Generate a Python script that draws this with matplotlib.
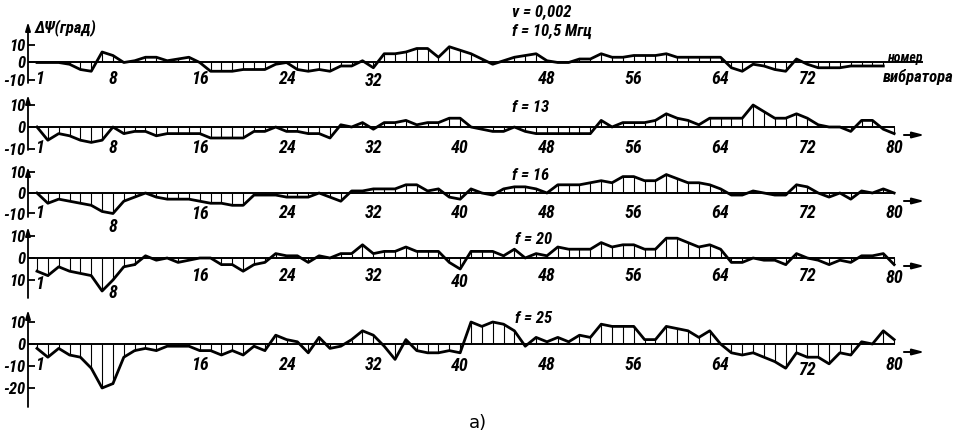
import numpy as np
import matplotlib
matplotlib.use('Agg')
from matplotlib import pyplot as plt
from matplotlib import font_manager

# фазовая ошибка dPsi (град) по номерам вибраторов, пять частот
dphi_105 = [0, 0, 0, -1, -4, -5, 6, 4, 0, 1,
            3, 3, 1, 2, 3, 0, -5, -5, -5, -4,
            -4, -4, -1, 0, -4, -5, -4, -5, -2, -2,
            1, -3, 5, 5, 6, 8, 8, 3, 9, 7,
            5, 2, -1, 1, 3, 4, 5, 1, 0, 0,
            2, 2, 5, 3, 3, 4, 4, 4, 5, 3,
            3, 3, 3, 3, -3, -5, -1, -2, -4, -5,
            2, -1, -3, -3, -3, -2, -2, -2, -2]
dphi_13 = [0, -6, -3, -4, -6, -7, -6, 0, -3, -2,
           -2, -4, -3, -3, -3, -3, -5, -5, -5, -5,
           -2, -2, 0, -2, -2, -3, -3, -5, 1, 0,
           2, -1, 2, 2, 3, 1, 2, 2, 4, 4,
           0, -1, -2, -2, 0, -2, -3, -3, -3, -3,
           -3, -3, 3, 0, 2, 2, 2, 3, 6, 4,
           3, 1, 4, 4, 4, 4, 10, 7, 4, 4,
           6, 4, 1, 0, 0, -2, 3, 3, -1, -3]
dphi_16 = [0, -5, -3, -4, -5, -6, -9, -10, -4, -2,
           0, -2, -3, -3, -3, -4, -5, -5, -6, -6,
           -1, -1, -1, -2, -2, -2, 0, -2, -4, 1,
           1, 2, 2, 2, 4, 4, 1, 2, -2, -3,
           2, 0, -1, 2, 3, 3, 2, 0, 4, 4,
           4, 5, 6, 5, 8, 8, 6, 6, 9, 7,
           5, 5, 4, 2, -1, -1, 1, 0, -1, -1,
           4, 3, 0, -2, 0, -3, 1, 0, 2, 0]
dphi_20 = [-6, -8, -4, -6, -7, -8, -15, -10, -4, -3,
           1, -1, 0, -2, -1, 0, 0, -3, -3, -6,
           -3, -2, 2, 1, 1, -2, 1, 0, 2, 2,
           6, 2, 3, 3, 5, 3, 3, 3, -2, -5,
           3, 3, 3, 1, 4, 0, 2, 1, 5, 4,
           4, 4, 7, 5, 6, 6, 4, 4, 9, 9,
           7, 5, 6, 4, -2, -2, 0, -1, -1, -3,
           2, 0, -1, -3, -1, -2, 1, 1, 2, -3]
dphi_25 = [-2, -6, -2, -5, -6, -11, -20, -18, -6, -3,
           -2, -3, -1, -1, -1, -3, -3, -5, -3, -5,
           -1, -3, 4, 2, 1, -4, 3, -2, -1, 2,
           6, 4, -1, -7, 2, -3, -4, -4, -3, -4,
           10, 8, 10, 9, 6, -1, 3, 1, 3, 1,
           4, 3, 9, 8, 8, 8, 2, 2, 8, 7,
           6, 3, 6, 0, -4, -5, -4, -6, -8, -11,
           -4, -6, -6, -9, -4, -5, 1, 0, 6, 2]

series = [dphi_105, dphi_13, dphi_16, dphi_20, dphi_25]
freq_text = ['f = 10,5 Мгц', 'f = 13', 'f = 16', 'f = 20', 'f = 25']
ytick_vals = [[10, 0, -10], [10, 0, -10], [10, 0, -10], [10, 0, -10], [10, 0, -10, -20]]
ytick_text = [['10', '0', '-10'], ['10', '0', '-10'], ['10', '0', '-10'],
              ['10', '0', '10'], ['10', '0', '-10', '-20']]
xtick_vals = [[1, 8, 16, 24, 32, 48, 56, 64, 72],
              [1, 8, 16, 24, 32, 40, 48, 56, 64, 72, 80],
              [1, 8, 16, 24, 32, 40, 48, 56, 64, 72, 80],
              [1, 8, 16, 24, 32, 40, 48, 56, 64, 72, 80],
              [1, 16, 24, 32, 40, 48, 56, 64, 72, 80]]

# разметка полос: ноль (px), px на градус, верх оси, низ оси, отступ подписей
strips = [(62.5, 1.75, 22, 83, 16), (127, 2.2, 95, 150, 21), (193, 2.05, 167, 217, 20),
          (258, 2.2, 227, 298, 18), (344, 2.2, 310, 407, 21)]
freq_pos = [(512, 31), (512, 108), (512, 175), (515, 240), (515, 318)]

names = {f.name for f in font_manager.fontManager.ttflist}
hand = next((n for n in ['Liberation Sans Narrow', 'DejaVu Sans Condensed',
                         'Roboto Condensed', 'Open Sans Condensed'] if n in names), 'DejaVu Sans')
tf = dict(family=hand, style='italic', weight='bold')

W, H = 961, 440
fig = plt.figure(figsize=(W / 100, H / 100), dpi=100)
px = 10.85
xl, xr = 28, 935
n0 = 1 - (37 - xl) / px
n1 = 1 + (xr - 37) / px

for i, vals in enumerate(series):
    y0, s, top, bot, off = strips[i]
    ax = fig.add_axes([xl / W, 1 - bot / H, (xr - xl) / W, (bot - top) / H])
    ax.set_xlim(n0, n1)
    ax.set_ylim(-(bot - y0) / s, (y0 - top) / s)
    ax.patch.set_alpha(0)
    for sp in ax.spines.values():
        sp.set_visible(False)
    v = np.array(vals)
    n = np.arange(1, len(v) + 1)
    ax.vlines(n, 0, v, color='k', lw=0.8)
    ax.plot(n, v, color='k', lw=2.0)
    end = 82.6 if i == 0 else 80
    ax.plot([n0, end], [0, 0], color='k', lw=1.4)
    ax.annotate('', xy=(n0, ax.get_ylim()[1]), xytext=(n0, ax.get_ylim()[0]),
                arrowprops=dict(arrowstyle='-|>,head_length=0.5,head_width=0.15',
                                lw=1.3, color='k', shrinkA=0, shrinkB=0))
    if i > 0:
        ya = -8 / s
        ax.annotate('', xy=(82.8, ya), xytext=(80.9, ya),
                    arrowprops=dict(arrowstyle='-|>,head_length=0.7,head_width=0.18',
                                    lw=1.4, color='k', shrinkA=0, shrinkB=0))
    ax.set_xticks([])
    ax.set_yticks(ytick_vals[i], ytick_text[i])
    ax.tick_params(axis='y', direction='in', length=5, width=1.3, pad=2, labelsize=12)
    for lab in ax.get_yticklabels():
        lab.set_fontfamily(hand)
        lab.set_fontstyle('italic')
        lab.set_fontweight('bold')
    for t in xtick_vals[i]:
        dy = max(off, -min(0, v[t - 1]) * s + 13)
        dx = 1.5 if t == 1 else 0
        ax.annotate(str(t), xy=(t, 0), xytext=(dx, -dy * 0.72), textcoords='offset points',
                    ha='center', va='center', fontsize=13, **tf)
    fx, fy = freq_pos[i]
    fig.text(fx / W, 1 - fy / H, freq_text[i], ha='left', va='center', fontsize=12, **tf)

fig.text(512 / W, 1 - 12 / H, 'ν = 0,002', ha='left', va='center', fontsize=12, **tf)
fig.text(35 / W, 1 - 28 / H, 'ΔΨ(град)', ha='left', va='center', fontsize=12, **tf)
fig.text(905 / W, 1 - 58 / H, 'номер', ha='center', va='center', fontsize=10, **tf)
fig.text(918 / W, 1 - 77 / H, 'вибратора', ha='center', va='center', fontsize=12, **tf)
fig.text(478 / W, 1 - 423 / H, 'а)', ha='center', va='center', fontsize=13, family='DejaVu Sans')

plt.savefig('out.png', dpi=100)
